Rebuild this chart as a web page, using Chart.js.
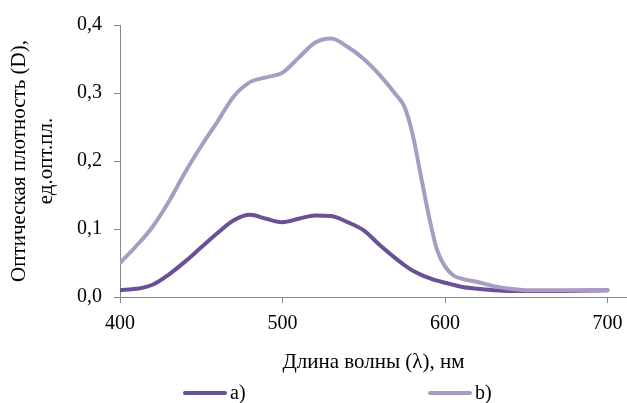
<!DOCTYPE html>
<html>
<head>
<meta charset="utf-8">
<script src="https://cdn.jsdelivr.net/npm/chart.js@4.4.1/dist/chart.umd.min.js"></script>
<style>
  body { margin: 0; background: #fff; }
  #wrap { position: relative; width: 627px; height: 403px; }
  #legend { position: absolute; left: 183px; top: 381px; display: flex;
            font: 20px "Liberation Serif", serif; color: #000; }
  #legend .item { width: 245px; display: flex; align-items: center; }
  #legend .mark { width: 44px; height: 4px; border-radius: 2px; margin-right: 3px; }
</style>
</head>
<body>
<div id="wrap">
  <canvas id="spectrum"></canvas>
  <div id="legend"></div>
</div>
<script>
var wavelength = [400, 410, 420, 430, 440, 450, 460, 470, 480, 490, 500, 510, 520, 530, 540, 550,
                  560, 570, 575, 580, 585, 590, 595, 600, 605, 610, 620, 630, 640, 650, 670, 700];
var seriesA = [0.010, 0.012, 0.018, 0.033, 0.052, 0.073, 0.094, 0.113, 0.121, 0.115, 0.110, 0.115,
               0.120, 0.119, 0.110, 0.098, 0.076, 0.056, 0.047, 0.039, 0.033, 0.028, 0.024, 0.021,
               0.018, 0.015, 0.012, 0.010, 0.009, 0.009, 0.009, 0.010];
var seriesB = [0.050, 0.075, 0.103, 0.140, 0.183, 0.222, 0.258, 0.295, 0.316, 0.323, 0.330, 0.352,
               0.374, 0.380, 0.368, 0.350, 0.326, 0.297, 0.280, 0.240, 0.180, 0.120, 0.070, 0.045,
               0.032, 0.027, 0.022, 0.016, 0.012, 0.010, 0.010, 0.010];
var seriesNames = ['a)', 'b)'];
var xTicks = [400, 500, 600, 700];

var axisColor = '#868686';
var serif = '"Liberation Serif", "Times New Roman", serif';

function pts(ys) {
    return wavelength.map(function(x, i) { return {x: x, y: ys[i]}; });
}

var config = {
    type: 'line',
    data: {
        datasets: [{
            label: seriesNames[0],
            data: pts(seriesA),
            borderColor: '#6a5196',
            order: 1
        }, {
            label: seriesNames[1],
            data: pts(seriesB),
            borderColor: '#a99cc4',
            order: 0   // light curve drawn over the dark one
        }]
    },
    options: {
        responsive: true,
        maintainAspectRatio: false,
        animation: false,
        layout: { padding: { top: 25, right: 0, bottom: 25, left: 0 } },
        elements: {
            point: { radius: 0 },
            line: { borderWidth: 4, cubicInterpolationMode: 'monotone', borderCapStyle: 'round', fill: false }
        },
        plugins: {
            legend: { display: false },
            tooltip: { enabled: false }
        },
        scales: {
            x: {
                type: 'linear',
                min: 400,
                max: 712,
                afterBuildTicks: function(scale) {
                    scale.ticks = xTicks.map(function(v) { return {value: v}; });
                },
                afterFit: function(scale) {
                    scale.height = 81;
                    scale.paddingRight = 0;  // axis runs to the right edge
                },
                grid: { drawOnChartArea: false, tickLength: 6, color: axisColor },
                border: { color: axisColor },
                ticks: { color: '#000', padding: 9, font: { family: serif, size: 20 } },
                title: {
                    display: true,
                    text: 'Длина волны (λ), нм',
                    color: '#000',
                    padding: { top: 14, bottom: 3 },
                    font: { family: serif, size: 21 }
                }
            },
            y: {
                min: 0,
                max: 0.4,
                afterFit: function(scale) { scale.width = 120; },
                grid: { drawOnChartArea: false, tickLength: 6, color: axisColor },
                border: { color: axisColor },
                ticks: {
                    stepSize: 0.1,
                    color: '#000',
                    padding: 12,
                    font: { family: serif, size: 20 },
                    callback: function(v) { return v.toFixed(1).replace('.', ','); }
                },
                title: {
                    display: true,
                    text: ['Оптическая плотность (D),', 'ед.опт.пл.'],
                    color: '#000',
                    padding: { top: 6, bottom: 4 },
                    font: { family: serif, size: 21, lineHeight: 1.3 }
                }
            }
        }
    }
};

var chart = new Chart(document.getElementById('spectrum'), config);

// html legend below the plot, built from the datasets
var legendBox = document.getElementById('legend');
chart.data.datasets.forEach(function(ds) {
    var item = document.createElement('div');
    item.className = 'item';
    var mark = document.createElement('span');
    mark.className = 'mark';
    mark.style.background = ds.borderColor;
    var txt = document.createElement('span');
    txt.textContent = ds.label;
    item.appendChild(mark);
    item.appendChild(txt);
    legendBox.appendChild(item);
});
</script>
</body>
</html>
